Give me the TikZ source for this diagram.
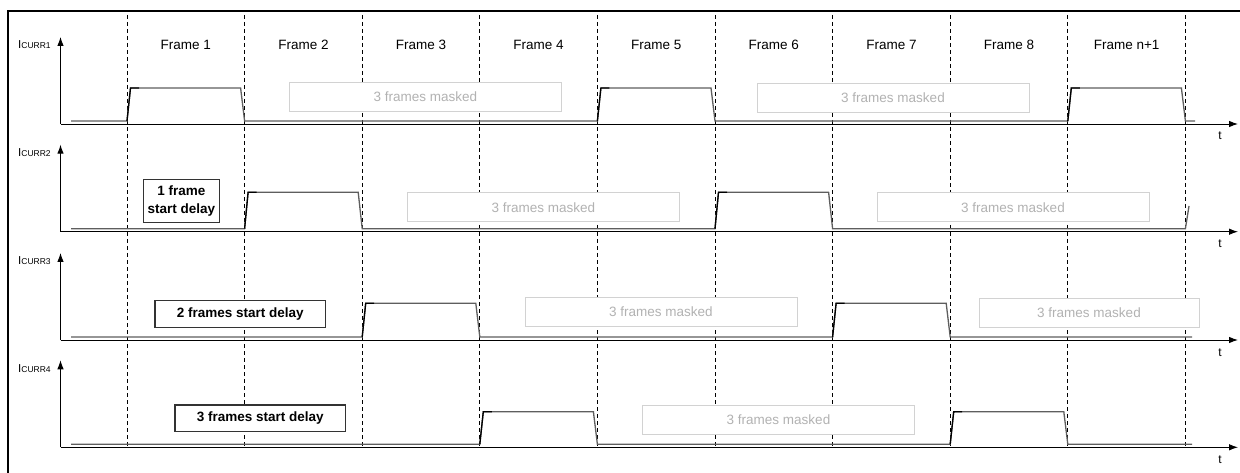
\documentclass[tikz,border=0pt]{standalone}
\usepackage{fontspec}
\setmainfont{Liberation Sans}
\usetikzlibrary{arrows.meta}
\definecolor{sigcol}{HTML}{5E5E5E}
\definecolor{maskborder}{HTML}{D2D2D2}
\definecolor{masktext}{HTML}{B2B2B2}
\definecolor{delayborder}{HTML}{333333}
\tikzset{
  axisline/.style={line width=0.9pt, draw=black, -{Latex[length=9pt,width=6.5pt]}},
  sig/.style={line width=1.3pt, draw=sigcol, line join=miter},
  sigrise/.style={line width=1.3pt, draw=black, line join=miter},
  gridline/.style={line width=0.8pt, draw=black, dash pattern=on 4pt off 3pt},
  maskbox/.style={draw=maskborder, fill=white, line width=1pt, text=masktext,
    font=\fontsize{13.5}{15}\selectfont, minimum width=272pt, minimum height=29pt, inner sep=0pt},
  delaybox/.style={draw=delayborder, fill=white, line width=1.1pt, text=black,
    font=\bfseries\fontsize{13.5}{18}\selectfont, align=center, inner sep=0pt},
  framelabel/.style={font=\fontsize{13.5}{15}\selectfont, inner sep=0pt},
  ilabel/.style={anchor=base west, inner sep=0pt},
  tlabel/.style={anchor=base, inner sep=0pt, font=\fontsize{12}{13}\selectfont},
}
\begin{document}
\begin{tikzpicture}[x=1pt,y=-1pt]
\useasboundingbox (0,0) rectangle (1240,473);
\clip (0,0) rectangle (1240,473);

% outer frame
\draw[line width=1.4pt] (1260,11) -- (8,11) -- (8,490);

% frame boundaries
\foreach \xx in {127,244.6,362.2,479.8,597.4,715,832.6,950.2,1067.8,1185.4}
  \draw[gridline] (\xx,15) -- (\xx,447.3);

% frame labels
\node[framelabel] (f1) at (185.8,45) {Frame 1};
\node[framelabel] (f2) at (303.4,45) {Frame 2};
\node[framelabel] (f3) at (421,45) {Frame 3};
\node[framelabel] (f4) at (538.6,45) {Frame 4};
\node[framelabel] (f5) at (656.2,45) {Frame 5};
\node[framelabel] (f6) at (773.8,45) {Frame 6};
\node[framelabel] (f7) at (891.4,45) {Frame 7};
\node[framelabel] (f8) at (1009,45) {Frame 8};
\node[framelabel] (f9) at (1126.6,45) {Frame n+1};

% axes
\foreach \a/\n in {124/1,231.7/2,340/3,447.3/4}{
  \draw[axisline] (60.5,\a) -- (60.5,\a-87);
  \draw[axisline] (60.5,\a) -- (1238,\a);
  \node[ilabel] (i\n) at (18,\a-75) {{\fontsize{11.5}{12}\selectfont I}{\fontsize{8.5}{9}\selectfont CURR\n}};
  \node[tlabel] (t\n) at (1220,\a+16) {t};
}

% signals
\draw[sig] (71,121) -- (127,121) -- (130.5,88) -- (240.6,88) -- (244.6,121) -- (597.4,121) -- (600.9,88) -- (711,88) -- (715,121) -- (1067.8,121) -- (1071.3,88) -- (1181.4,88) -- (1185.4,121) -- (1195,121);
\draw[sig] (71,228.7) -- (244.6,228.7) -- (248.1,192.3) -- (358.2,192.3) -- (362.2,228.7) -- (715,228.7) -- (718.5,192.3) -- (828.6,192.3) -- (832.6,228.7) -- (1185.4,228.7) -- (1189,206);
\draw[sig] (71,337) -- (362.2,337) -- (365.7,303.3) -- (475.8,303.3) -- (479.8,337) -- (832.6,337) -- (836.1,303.3) -- (946.2,303.3) -- (950.2,337) -- (1192,337);
\draw[sig] (71,444.3) -- (479.8,444.3) -- (483.3,411.7) -- (593.4,411.7) -- (597.4,444.3) -- (950.2,444.3) -- (953.7,411.7) -- (1063.8,411.7) -- (1067.8,444.3) -- (1192,444.3);

% darker rising edges
\foreach \xx/\b/\h in {127/121/88, 597.4/121/88, 1067.8/121/88,
  244.6/228.7/192.3, 715/228.7/192.3,
  362.2/337/303.3, 832.6/337/303.3,
  479.8/444.3/411.7, 950.2/444.3/411.7}
  \draw[sigrise] (\xx,\b) -- (\xx+3.5,\h) -- (\xx+12,\h);

% masked boxes
\node[maskbox] (m11) at (425.5,97) {3 frames masked};
\node[maskbox] (m12) at (893,98) {3 frames masked};
\node[maskbox] (m21) at (543.5,207.5) {3 frames masked};
\node[maskbox] (m22) at (1013,207.3) {3 frames masked};
\node[maskbox] (m31) at (661,312) {3 frames masked};
\node[maskbox, minimum width=220pt] (m32) at (1089,312.5) {3 frames masked};
\node[maskbox] (m41) at (778.5,420) {3 frames masked};

% delay boxes
\node[delaybox, minimum width=76pt, minimum height=43pt] (d1) at (181.3,200.8) {1 frame\\start delay};
\node[delaybox, minimum width=170.7pt, minimum height=27pt] (d2) at (240.3,313.8) {2 frames start delay};
\node[delaybox, minimum width=170.7pt, minimum height=26.7pt] (d3) at (260.3,418.3) {3 frames start delay};
\end{tikzpicture}
\end{document}
